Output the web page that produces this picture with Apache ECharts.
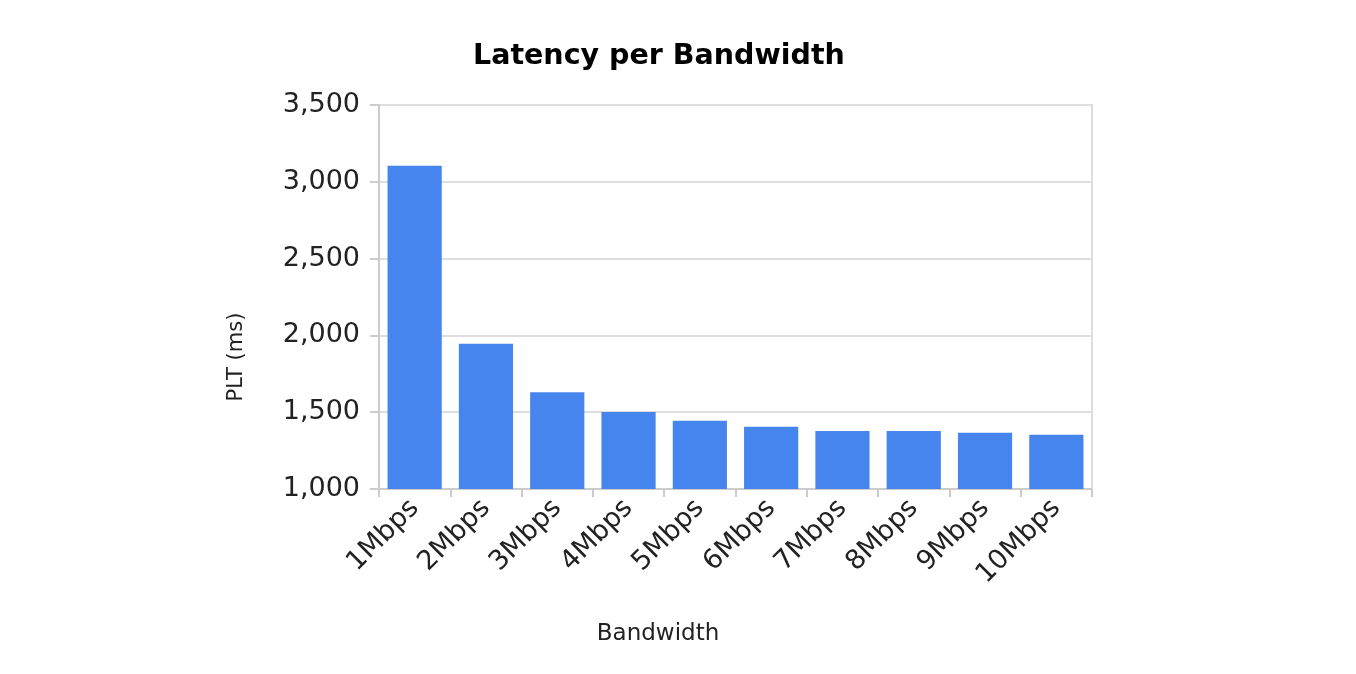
<!DOCTYPE html>
<html>
<head>
<meta charset="utf-8">
<script src="https://cdn.jsdelivr.net/npm/echarts@6/dist/echarts.min.js"></script>
<style>html,body{margin:0;padding:0;background:#fff;}#c{width:1356px;height:674px;}</style>
</head>
<body>
<div id="c"></div>
<script>
const categories = ['1Mbps','2Mbps','3Mbps','4Mbps','5Mbps','6Mbps','7Mbps','8Mbps','9Mbps','10Mbps'];
const pltValues = [3105, 1946, 1630, 1502, 1445, 1406, 1378, 1378, 1367, 1354];
const yTicks = {min: 1000, max: 3500, interval: 500};
const titleText = 'Latency per Bandwidth';
const xName = 'Bandwidth';
const yName = 'PLT (ms)';

const chart = echarts.init(document.getElementById('c'));
const font = 'DejaVu Sans';
chart.setOption({
  animation: false,
  backgroundColor: '#fff',
  title: {
    text: titleText, left: 468, top: 37,
    textStyle: {fontFamily: font, fontWeight: 'bold', fontSize: 28.5, color: '#000'}
  },
  grid: {left: 379, right: 264, top: 105, bottom: 185, show: true, borderColor: '#dedede', borderWidth: 2},
  xAxis: {
    type: 'category', data: categories,
    axisLine: {lineStyle: {color: '#cccccc', width: 2}},
    axisTick: {show: true, length: 8, lineStyle: {color: '#cccccc', width: 2}},
    axisLabel: {rotate: 45, fontFamily: font, fontSize: 27, color: '#222', margin: 15, interval: 0}
  },
  yAxis: {
    type: 'value', min: yTicks.min, max: yTicks.max, interval: yTicks.interval,
    axisLine: {show: true, lineStyle: {color: '#cccccc', width: 2}},
    axisTick: {show: true, length: 9, lineStyle: {color: '#cccccc', width: 2}},
    splitLine: {lineStyle: {color: '#dedede', width: 2}},
    axisLabel: {fontFamily: font, fontSize: 27, color: '#222', margin: 19,
      formatter: v => v.toLocaleString('en-US')}
  },
  graphic: [{
    type: 'text', x: 237, y: 357, rotation: Math.PI / 2,
    style: {text: yName, align: 'center', verticalAlign: 'middle', fontFamily: font, fontSize: 21, fill: '#222'}
  }, {
    type: 'text', x: 658, y: 634,
    style: {text: xName, align: 'center', verticalAlign: 'middle', fontFamily: font, fontSize: 23, fill: '#222'}
  }],
  series: [{
    type: 'bar', data: pltValues, barCategoryGap: '24%',
    itemStyle: {color: '#4684ee'}
  }]
});
</script>
</body>
</html>
